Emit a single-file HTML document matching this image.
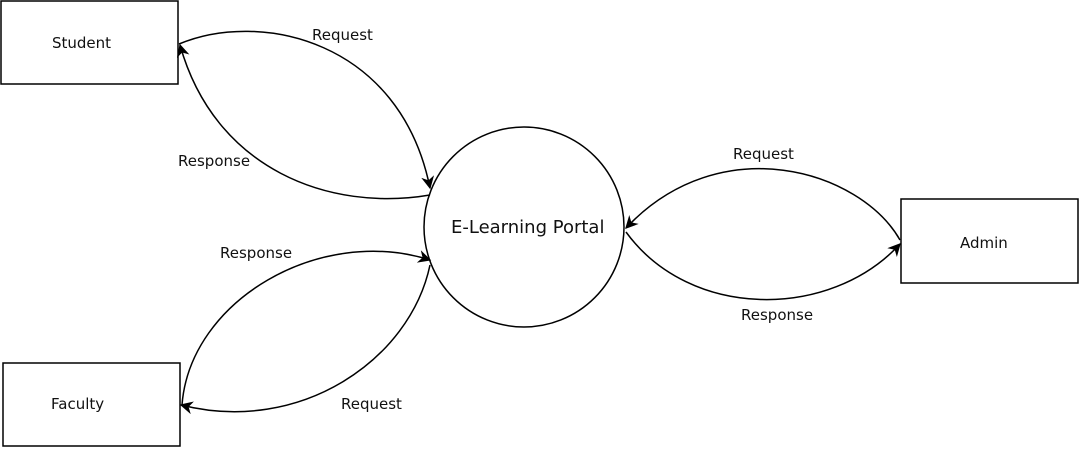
<!DOCTYPE html>
<html><head><style>body{margin:0;background:#fff}svg{display:block}text{font-family:"DejaVu Sans","Liberation Sans",sans-serif;font-size:15px;fill:#111}</style></head>
<body>
<svg width="1080" height="449" viewBox="0 0 1080 449">
<defs><marker id="a" viewBox="0 0 10 10" refX="9" refY="5" markerWidth="13" markerHeight="13" markerUnits="userSpaceOnUse" orient="auto"><path d="M0,0 L10,5 L0,10 L3,5 z" fill="#000"/></marker></defs>
<g fill="none" stroke="#000" stroke-width="1.5">
<rect x="1" y="1" width="177" height="83"/>
<rect x="3" y="363" width="177" height="83"/>
<rect x="901" y="199" width="177" height="84"/>
<circle cx="524" cy="227" r="100"/>
<path d="M179,44 C260,10 400,40 430,188" marker-end="url(#a)"/>
<path d="M430,195 C330,212 215,170 180,45" marker-end="url(#a)"/>
<path d="M182,405 C190,300 320,225 430,260" marker-end="url(#a)"/>
<path d="M430,265 C410,360 300,435 181,405" marker-end="url(#a)"/>
<path d="M900,240 C860,170 720,128 626,228" marker-end="url(#a)"/>
<path d="M626,232 C690,320 830,320 900,244" marker-end="url(#a)"/>
</g>
<text x="52" y="48">Student</text>
<text x="51" y="409">Faculty</text>
<text x="960" y="248">Admin</text>
<text x="451" y="233" style="font-size:18px">E-Learning Portal</text>
<text x="312" y="40">Request</text>
<text x="178" y="166">Response</text>
<text x="220" y="258">Response</text>
<text x="341" y="409">Request</text>
<text x="733" y="159">Request</text>
<text x="741" y="320">Response</text>
</svg>
</body></html>
